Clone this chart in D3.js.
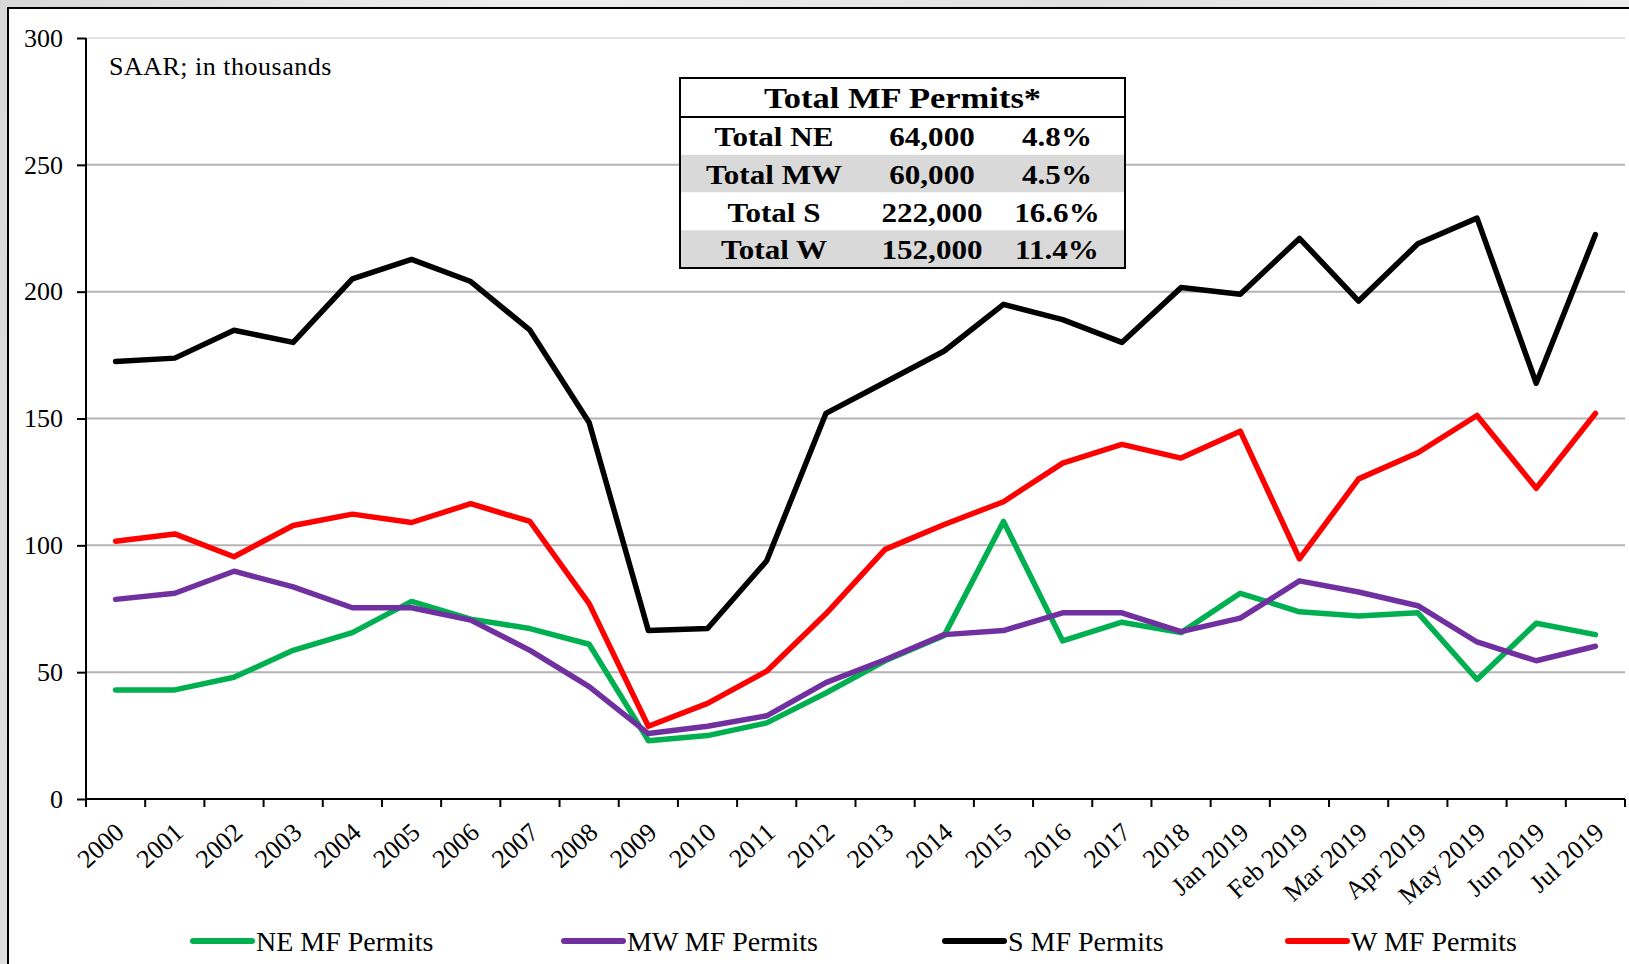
<!DOCTYPE html>
<html lang="en">
<head>
  <meta charset="UTF-8">
  <title>MF Permits by Region</title>
  <script src="https://d3js.org/d3.v7.min.js"></script>
  <style>
    body {
      margin: 0;
      background: linear-gradient(100deg, #d8d8d8 0%, #efefef 30%, #e0e0e0 60%, #f2f2f2 100%);
      font-family: "Liberation Serif", "Times New Roman", serif;
    }
    svg { display: block; }
  </style>
</head>
<body>
  <svg></svg>
  <script>
    // chart data (thousands, SAAR)
    const categories = ["2000", "2001", "2002", "2003", "2004", "2005", "2006", "2007", "2008", "2009",
      "2010", "2011", "2012", "2013", "2014", "2015", "2016", "2017", "2018",
      "Jan 2019", "Feb 2019", "Mar 2019", "Apr 2019", "May 2019", "Jun 2019", "Jul 2019"];
    const neValues = [43, 43, 48, 58.6, 65.6, 77.9, 70.9, 67.2, 61, 23, 25, 30, 41.8, 54.5, 64.5, 109.4,
      62.3, 69.7, 65.6, 81.1, 73.8, 72.1, 73.4, 47.1, 69.3, 64.8];
    const mwValues = [78.7, 81.1, 89.8, 83.6, 75.4, 75.4, 70.5, 58.6, 44.3, 25.8, 28.7, 32.8, 45.9, 54.9,
      64.8, 66.4, 73.4, 73.4, 66, 71.3, 86, 81.6, 76.2, 61.9, 54.5, 60.2];
    const sValues = [172.5, 173.8, 184.8, 180, 205, 212.7, 204, 184.8, 148.4, 66.4, 67.2, 93.9, 152,
      164.3, 176.6, 195, 189, 180, 201.6, 199, 221, 196.3, 218.9, 229, 163.9, 222.5];
    const wValues = [101.6, 104.5, 95.5, 107.8, 112.3, 109, 116.4, 109.4, 77, 28.7, 37.7, 50.4, 73, 98.4,
      108.2, 117.2, 132.4, 139.8, 134.4, 145, 94.7, 126.2, 136.5, 151.2, 122.5, 152];
    const yTicks = [0, 50, 100, 150, 200, 250, 300];

    const seriesNames = ["NE MF Permits", "MW MF Permits", "S MF Permits", "W MF Permits"];
    const seriesColors = ["#00b050", "#7030a0", "#000000", "#ff0000"];

    const tableTitle = "Total MF Permits*";
    const tableLabels = ["Total NE", "Total MW", "Total S", "Total W"];
    const tableTotals = [64000, 60000, 222000, 152000];
    const tableShares = ["4.8%", "4.5%", "16.6%", "11.4%"];

    const W = 1629, H = 964;
    const margin = { top: 38, right: 4, bottom: 165, left: 86 };
    const width = W - margin.left - margin.right;
    const height = H - margin.top - margin.bottom;

    const svg = d3.select("svg").attr("width", W).attr("height", H);

    // white panel, framed on top and left
    svg.append("rect")
      .attr("x", 8).attr("y", 8)
      .attr("width", W).attr("height", H)
      .attr("fill", "#fff");
    svg.append("path")
      .attr("d", `M8,${H} L8,8 L${W},8`)
      .attr("fill", "none")
      .attr("stroke", "#000")
      .attr("stroke-width", 2);

    const g = svg.append("g").attr("transform", `translate(${margin.left},${margin.top})`);

    const x = d3.scaleBand().domain(categories).range([0, width]);
    const y = d3.scaleLinear().domain([0, 300]).range([height, 0]);

    // gridlines
    g.append("g")
      .selectAll("line")
      .data(yTicks.filter(d => d > 0))
      .enter().append("line")
      .attr("x1", 0).attr("x2", width)
      .attr("y1", d => y(d)).attr("y2", d => y(d))
      .attr("stroke", d => d === 300 ? "#e4e4e4" : "#b4b4b4")
      .attr("stroke-width", 2);

    // y axis
    const yAxis = g.append("g")
      .call(d3.axisLeft(y).tickValues(yTicks).tickSize(9).tickPadding(14));
    yAxis.select(".domain").attr("stroke-width", 2).attr("d", `M0,${height}V0`);
    yAxis.selectAll(".tick line").attr("stroke-width", 2);
    yAxis.selectAll("text")
      .attr("font-family", "Liberation Serif, Times New Roman, serif")
      .attr("font-size", 26)
      .attr("fill", "#000");

    // x axis, ticks on band edges
    const xg = g.append("g").attr("transform", `translate(0,${height})`);
    xg.append("line")
      .attr("x1", 0).attr("x2", width)
      .attr("stroke", "#000").attr("stroke-width", 2);
    xg.selectAll(".xtick")
      .data(categories.concat(["end"]))
      .enter().append("line")
      .attr("class", "xtick")
      .attr("x1", (d, i) => i * x.bandwidth())
      .attr("x2", (d, i) => i * x.bandwidth())
      .attr("y1", 0).attr("y2", 8)
      .attr("stroke", "#000").attr("stroke-width", 2);
    xg.selectAll(".xlabel")
      .data(categories)
      .enter().append("text")
      .attr("class", "xlabel")
      .attr("transform", d => `translate(${x(d) + x.bandwidth() / 2 - 2},22) rotate(-42)`)
      .attr("text-anchor", "end")
      .attr("dy", "0.7em")
      .attr("font-size", 26)
      .attr("fill", "#000")
      .text(d => d);

    // series lines
    const allSeries = [neValues, mwValues, sValues, wValues];
    const line = d3.line()
      .x((d, i) => x(categories[i]) + x.bandwidth() / 2)
      .y(d => y(d));
    g.selectAll(".series")
      .data(allSeries)
      .enter().append("path")
      .attr("class", "series")
      .attr("d", d => line(d))
      .attr("fill", "none")
      .attr("stroke", (d, i) => seriesColors[i])
      .attr("stroke-width", 5.5)
      .attr("stroke-linejoin", "round")
      .attr("stroke-linecap", "round");

    // note
    svg.append("text")
      .attr("x", 109).attr("y", 75)
      .attr("font-size", 26)
      .attr("letter-spacing", 0.5)
      .text("SAAR; in thousands");

    // summary table
    const tb = { x: 680, y: 78, w: 445, head: 39, row: 37.75 };
    const tg = svg.append("g");
    tg.append("rect")
      .attr("x", tb.x).attr("y", tb.y)
      .attr("width", tb.w).attr("height", tb.head + tb.row * 4)
      .attr("fill", "#fff");
    tg.selectAll(".trow")
      .data(tableLabels)
      .enter().append("rect")
      .attr("x", tb.x).attr("y", (d, i) => tb.y + tb.head + i * tb.row)
      .attr("width", tb.w).attr("height", tb.row)
      .attr("fill", (d, i) => i % 2 === 1 ? "#d9d9d9" : "#fff");
    tg.append("line")
      .attr("x1", tb.x).attr("x2", tb.x + tb.w)
      .attr("y1", tb.y + tb.head).attr("y2", tb.y + tb.head)
      .attr("stroke", "#000").attr("stroke-width", 2);
    tg.append("rect")
      .attr("x", tb.x).attr("y", tb.y)
      .attr("width", tb.w).attr("height", tb.head + tb.row * 4)
      .attr("fill", "none")
      .attr("stroke", "#000").attr("stroke-width", 2);
    tg.append("text")
      .attr("transform", `translate(${tb.x + tb.w / 2},${tb.y + 30}) scale(1.15,1)`)
      .attr("text-anchor", "middle")
      .attr("font-weight", "bold").attr("font-size", 30)
      .text(tableTitle);
    const fmt = d3.format(",");
    const cols = [
      { cx: 774, vals: tableLabels },
      { cx: 932, vals: tableTotals.map(fmt) },
      { cx: 1057, vals: tableShares }
    ];
    cols.forEach(c => {
      tg.selectAll(null)
        .data(c.vals)
        .enter().append("text")
        .attr("transform", (d, i) => `translate(${c.cx},${tb.y + tb.head + i * tb.row + 29}) scale(1.11,1)`)
        .attr("text-anchor", "middle")
        .attr("font-weight", "bold").attr("font-size", 28)
        .text(d => d);
    });

    // legend
    const legendX = [193, 564, 945, 1288];
    const lg = svg.selectAll(".legend")
      .data(seriesNames)
      .enter().append("g")
      .attr("class", "legend")
      .attr("transform", (d, i) => `translate(${legendX[i]},941)`);
    lg.append("line")
      .attr("x1", 0).attr("x2", 59)
      .attr("stroke", (d, i) => seriesColors[i])
      .attr("stroke-width", 6)
      .attr("stroke-linecap", "round");
    lg.append("text")
      .attr("x", 63).attr("dy", "0.35em")
      .attr("font-size", 28)
      .text(d => d);
  </script>
</body>
</html>
